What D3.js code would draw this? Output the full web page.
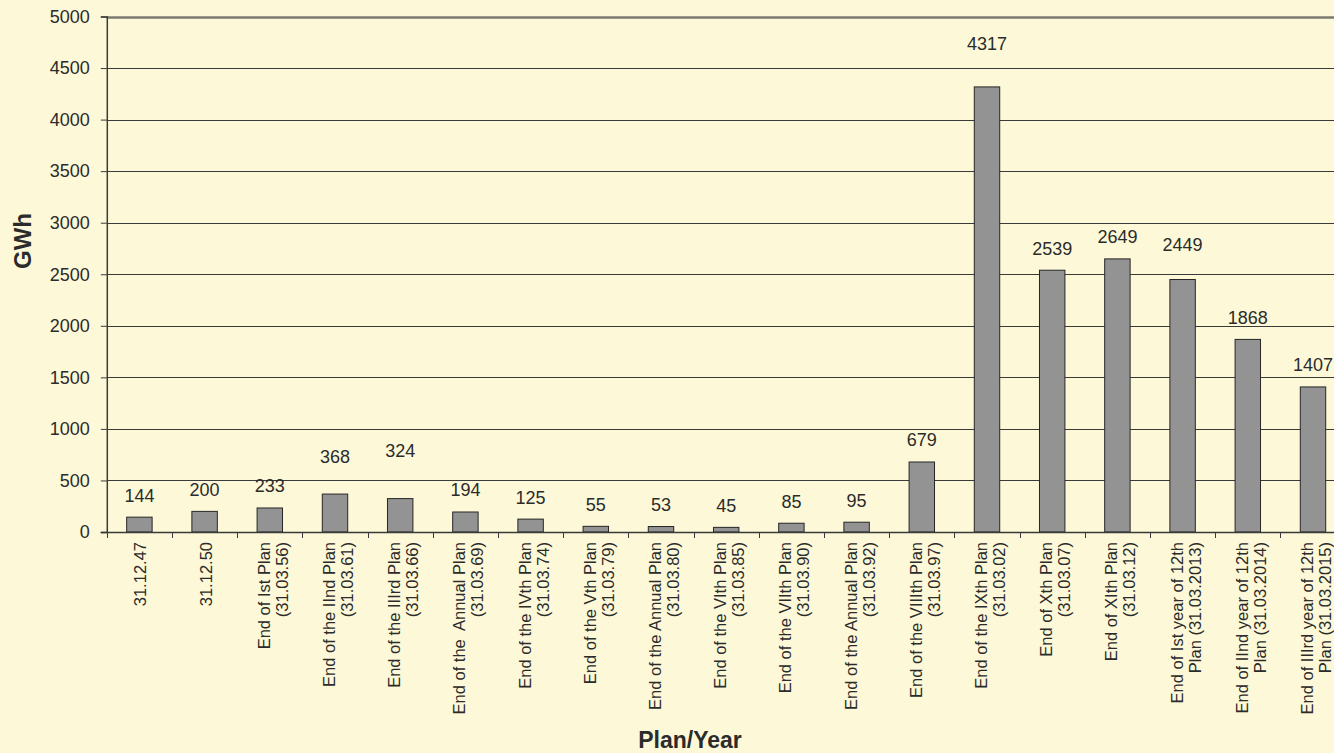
<!DOCTYPE html>
<html>
<head>
<meta charset="utf-8">
<script src="https://cdn.jsdelivr.net/npm/d3@7"></script>
<style>
  html, body { margin: 0; padding: 0; background: #fdf9d8; }
  svg { display: block; font-family: "Liberation Sans", Arial, sans-serif; }
</style>
</head>
<body>
<svg id="chart" width="1334" height="753"></svg>
<script>
// Plan periods on the x axis (each entry holds the label lines)
const categories = [
  ["31.12.47"],
  ["31.12.50"],
  ["End of Ist Plan", "(31.03.56)"],
  ["End of the IInd Plan", "(31.03.61)"],
  ["End of the IIIrd Plan", "(31.03.66)"],
  ["End of the  Annual Plan", "(31.03.69)"],
  ["End of the IVth Plan", "(31.03.74)"],
  ["End of the Vth Plan", "(31.03.79)"],
  ["End of the Annual Plan", "(31.03.80)"],
  ["End of the VIth Plan", "(31.03.85)"],
  ["End of the VIIth Plan", "(31.03.90)"],
  ["End of the Annual Plan", "(31.03.92)"],
  ["End of the VIIIth Plan", "(31.03.97)"],
  ["End of the IXth Plan", "(31.03.02)"],
  ["End of Xth Plan", "(31.03.07)"],
  ["End of XIth Plan", "(31.03.12)"],
  ["End of Ist year of 12th", "Plan (31.03.2013)"],
  ["End of IInd year of 12th", "Plan (31.03.2014)"],
  ["End of IIIrd year of 12th", "Plan (31.03.2015)"]
];

// Energy values (GWh)
const values = [144, 200, 233, 368, 324, 194, 125, 55, 53, 45, 85, 95, 679, 4317, 2539, 2649, 2449, 1868, 1407];

// Y-axis ticks
const yTicks = [0, 500, 1000, 1500, 2000, 2500, 3000, 3500, 4000, 4500, 5000];

const yTitle = "GWh";
const xTitle = "Plan/Year";

// Extra lift (px) for a few value labels that sit higher above their bars
const labelLift = [0, 0, 0, 16, 26, 0, 0, 0, 0, 0, 0, 0, 0, 21, 0, 0, 13, 0, 0];

const svg = d3.select("#chart");
const plotLeft = 106.8, plotRight = 1345.6, plotTop = 16.5, plotBottom = 532;
const ink = "#2b2b2b";

const x = d3.scaleBand()
  .domain(d3.range(categories.length))
  .range([plotLeft, plotRight])
  .paddingInner(0.61)
  .paddingOuter(0.305);

const xb = d3.scaleBand()
  .domain(d3.range(categories.length))
  .range([plotLeft, plotRight]);

const y = d3.scaleLinear().domain([0, 5000]).range([plotBottom, plotTop]);

// Horizontal gridlines
svg.append("g")
  .selectAll("line")
  .data(yTicks.filter(t => t > 0))
  .join("line")
  .attr("x1", plotLeft).attr("x2", 1334)
  .attr("y1", d => Math.round(y(d)) + 0.5)
  .attr("y2", d => Math.round(y(d)) + 0.5)
  .attr("stroke", d => d === 5000 ? "#7a7a72" : "#3a3a3a")
  .attr("stroke-width", d => d === 5000 ? 2.5 : 1);

// Bars
svg.append("g")
  .selectAll("rect")
  .data(values)
  .join("rect")
  .attr("x", (d, i) => x(i))
  .attr("width", x.bandwidth())
  .attr("y", d => y(d))
  .attr("height", d => y(0) - y(d))
  .attr("fill", "#939393")
  .attr("stroke", "#262626")
  .attr("stroke-width", 1);

// Value labels
svg.append("g")
  .selectAll("text")
  .data(values)
  .join("text")
  .attr("x", (d, i) => x(i) + x.bandwidth() / 2)
  .attr("y", (d, i) => y(d) - 15.5 - labelLift[i])
  .attr("text-anchor", "middle")
  .attr("font-size", 18)
  .attr("fill", ink)
  .text(d => d);

// Y axis
const yAxis = svg.append("g")
  .attr("transform", `translate(${plotLeft},0)`)
  .call(d3.axisLeft(y).tickValues(yTicks).tickSize(6).tickPadding(11).tickFormat(d3.format("d")));
yAxis.select(".domain").attr("stroke", "#3a3a3a").attr("stroke-width", 1.5);
yAxis.selectAll(".tick line").attr("stroke", "#3a3a3a");
yAxis.selectAll(".tick text")
  .attr("font-size", 18)
  .attr("font-family", "Liberation Sans, Arial, sans-serif")
  .attr("fill", ink);

// X axis line and band boundary ticks
svg.append("line")
  .attr("x1", plotLeft - 6).attr("x2", 1334)
  .attr("y1", plotBottom + 0.5).attr("y2", plotBottom + 0.5)
  .attr("stroke", "#3a3a3a").attr("stroke-width", 1.5);
svg.append("g")
  .selectAll("line")
  .data(d3.range(categories.length))
  .join("line")
  .attr("x1", i => Math.round(xb(i)) + 0.5)
  .attr("x2", i => Math.round(xb(i)) + 0.5)
  .attr("y1", plotBottom).attr("y2", plotBottom + 6)
  .attr("stroke", "#3a3a3a");

// Rotated category labels
const catG = svg.append("g")
  .selectAll("g")
  .data(categories)
  .join("g")
  .attr("transform", (d, i) => `translate(${xb(i) + xb.bandwidth() / 2},542) rotate(-90)`);
catG.each(function (lines) {
  const g = d3.select(this);
  const offsets = lines.length === 1 ? [1] : [-6, 12];
  lines.forEach((t, k) => {
    g.append("text")
      .attr("x", 0)
      .attr("y", offsets[k])
      .attr("dominant-baseline", "central")
      .attr("text-anchor", "end")
      .attr("font-size", 16.5)
      .attr("fill", ink)
      .style("white-space", "pre")
      .text(t);
  });
});

// Axis titles
svg.append("text")
  .attr("transform", "translate(31,241) rotate(-90)")
  .attr("text-anchor", "middle")
  .attr("font-size", 24)
  .attr("font-weight", "bold")
  .attr("fill", ink)
  .text(yTitle);

svg.append("text")
  .attr("x", 690)
  .attr("y", 748)
  .attr("text-anchor", "middle")
  .attr("font-size", 23)
  .attr("font-weight", "bold")
  .attr("fill", ink)
  .text(xTitle);
</script>
</body>
</html>
